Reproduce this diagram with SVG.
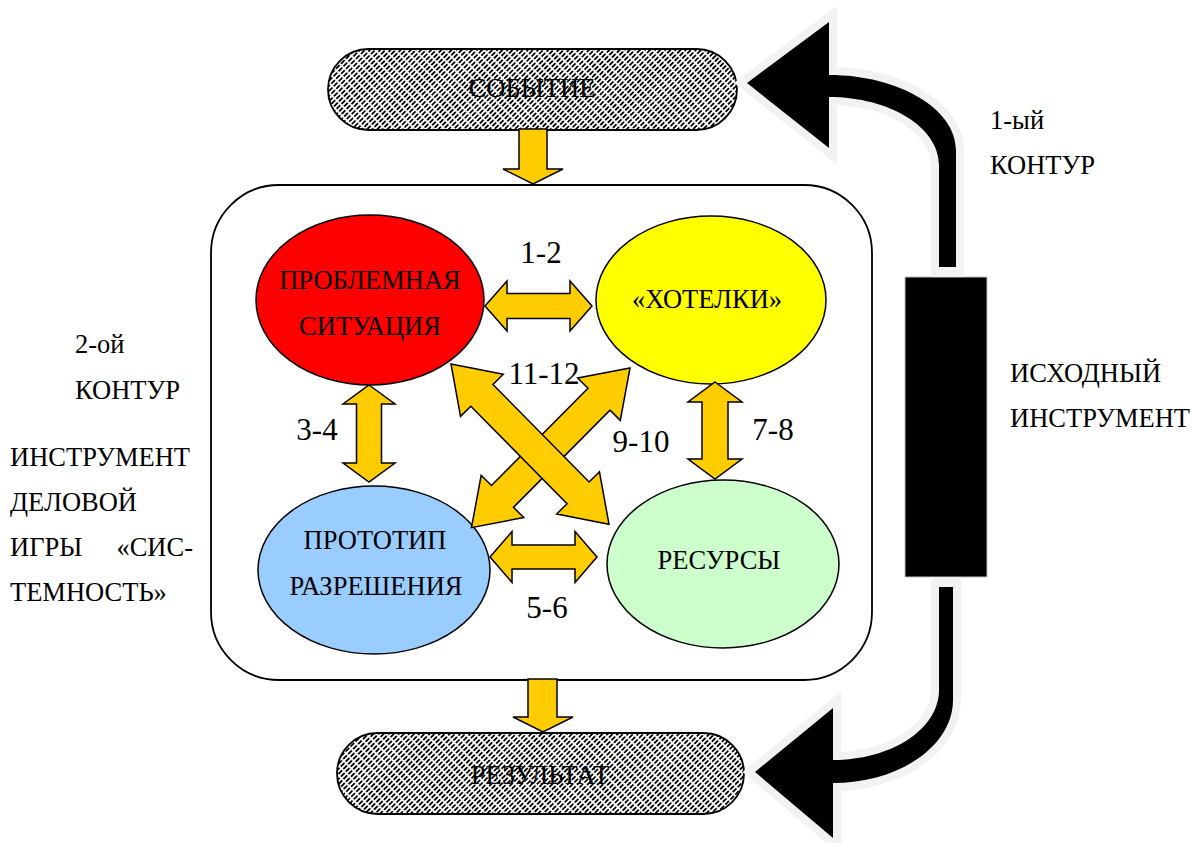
<svg xmlns="http://www.w3.org/2000/svg" width="1192" height="843" viewBox="0 0 1192 843">
<defs>
<pattern id="hatch" patternUnits="userSpaceOnUse" width="7" height="3.6" patternTransform="rotate(-45)">
<rect width="7" height="3.6" fill="#fff"/>
<line x1="0" y1="1.8" x2="5.2" y2="1.8" stroke="#000" stroke-width="1.8"/>
</pattern>
<path id="dbl" d="M0,0 L44,-30 L44,-15.5 L181,-15.5 L181,-30 L225,0 L181,30 L181,15.5 L44,15.5 L44,30 Z"/>
</defs>
<style>
.lbl{font-size:26.5px;}
.num{font-size:31px;text-anchor:middle;}
.mid{text-anchor:middle;}
.ya{fill:#FFCC00;stroke:#000;stroke-width:1.5;stroke-linejoin:miter;}
.ell{stroke:#000;stroke-width:1.5;}
.pill{fill:url(#hatch);stroke:#000;stroke-width:1.8;}
.halo{fill:#F2F2F2;stroke:#F2F2F2;stroke-width:16;stroke-linejoin:miter;}
.blk{fill:#000;}
</style>

<g font-family="'Liberation Serif', 'Times New Roman', serif" fill="#000">
<g id="event">
<rect class="pill" x="328" y="49" width="409" height="81" rx="40.5" ry="40.5"/>
<text class="lbl mid" x="532" y="97">СОБЫТИЕ</text>
</g>

<g id="result">
<rect class="pill" x="337" y="733" width="407" height="81" rx="40.5" ry="40.5"/>
<text class="lbl mid" x="540" y="784">РЕЗУЛЬТАТ</text>
</g>

<g id="frame">
<rect x="211" y="185" width="661" height="495" rx="68" ry="68" fill="#fff" stroke="#000" stroke-width="1.8"/>
</g>

<g id="problem">
<ellipse class="ell" cx="370" cy="300" rx="114" ry="85" fill="#FF0000"/>
<text class="lbl mid" x="370" y="289">ПРОБЛЕМНАЯ</text>
<text class="lbl mid" x="370" y="335">СИТУАЦИЯ</text>
</g>

<g id="wishes">
<ellipse class="ell" cx="711" cy="300" rx="115" ry="84" fill="#FFFF00"/>
<text class="lbl mid" x="707" y="308">«ХОТЕЛКИ»</text>
</g>

<g id="prototype">
<ellipse class="ell" cx="374" cy="570" rx="116" ry="84" fill="#99CCFF"/>
<text class="lbl mid" x="375" y="549">ПРОТОТИП</text>
<text class="lbl mid" x="376" y="595">РАЗРЕШЕНИЯ</text>
</g>

<g id="resources">
<ellipse class="ell" cx="723" cy="564" rx="116" ry="84" fill="#CCFFCC"/>
<text class="lbl mid" x="719" y="569">РЕСУРСЫ</text>
</g>

<g id="tool">
<rect x="905" y="277" width="82" height="300" fill="#000" stroke="#BFBFBF" stroke-width="1"/>
</g>

<g id="connectors">
<path class="ya" d="M519,129 L547,129 L547,169 L563,169 L533,184 L503,169 L519,169 Z"/>
<path class="ya" d="M528,679 L557,679 L557,717 L573,717 L543,732 L513,717 L528,717 Z"/>
<path class="ya" d="M485,306 L507,281 L507,293.5 L570,293.5 L570,281 L592,306 L570,331 L570,318.5 L507,318.5 L507,331 Z"/>
<path class="ya" d="M490,557 L512,531.5 L512,545 L575,545 L575,531.5 L597,557 L575,582.5 L575,569 L512,569 L512,582.5 Z"/>
<path class="ya" d="M369,385 L395,404 L381.5,404 L381.5,463 L395,463 L369,482 L343,463 L356.5,463 L356.5,404 L343,404 Z"/>
<path class="ya" d="M715,382 L742,402 L728,402 L728,459 L742,459 L715,479 L688,459 L702,459 L702,402 L688,402 Z"/>
<use href="#dbl" class="ya" transform="translate(630,368) rotate(134.8)"/>
<use href="#dbl" class="ya" transform="translate(451,364) rotate(45.4)"/>
<path class="halo" d="M939,269 L939,165 C939,127.5 890,97 829,97 L829,148 L747,83 L829,22 L829,75 C899,75 956,109 956,150 L956,269 Z"/>
<path class="blk" d="M939,267 L939,165 C939,127.5 890,97 829,97 L829,148 L747,83 L829,22 L829,75 C899,75 956,109 956,150 L956,267 Z"/>
<path class="halo" d="M939,585 L939,690 C939,729 891.5,760 833,760 L833,708 L755,772 L833,838 L833,783 C899,783 953,746 953,700 L953,585 Z"/>
<path class="blk" d="M939,587 L939,690 C939,729 891.5,760 833,760 L833,708 L755,772 L833,838 L833,783 C899,783 953,746 953,700 L953,587 Z"/>
</g>

<g id="labels">
<text class="num" x="541" y="263">1-2</text>
<text class="num" x="317" y="440">3-4</text>
<text class="num" x="773" y="440">7-8</text>
<text class="num" x="641" y="452">9-10</text>
<text class="num" x="544" y="384">11-12</text>
<text class="num" x="547" y="618">5-6</text>
<text class="lbl" x="990" y="129">1-ый</text>
<text class="lbl" x="990" y="174">КОНТУР</text>
<text class="lbl" x="1010" y="382">ИСХОДНЫЙ</text>
<text class="lbl" x="1010" y="427">ИНСТРУМЕНТ</text>
<text class="lbl" x="75" y="353">2-ой</text>
<text class="lbl" x="75" y="399">КОНТУР</text>
<text class="lbl" x="10" y="466">ИНСТРУМЕНТ</text>
<text class="lbl" x="10" y="511">ДЕЛОВОЙ</text>
<text class="lbl" x="10" y="556">ИГРЫ<tspan x="193" text-anchor="end">«СИС-</tspan></text>
<text class="lbl" x="10" y="601">ТЕМНОСТЬ»</text>
</g>
</g>
</svg>
